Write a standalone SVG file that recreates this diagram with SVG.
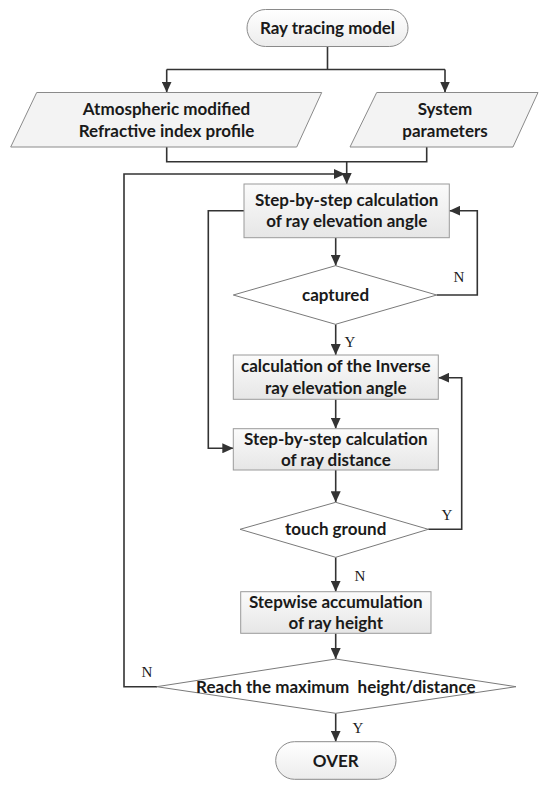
<svg xmlns="http://www.w3.org/2000/svg" width="550" height="790" viewBox="0 0 550 790">
<defs>
<linearGradient id="gBox" x1="0" y1="0" x2="0" y2="1">
<stop offset="0" stop-color="#fbfbfb"/>
<stop offset="1" stop-color="#e6e6e6"/>
</linearGradient>
<linearGradient id="gTerm" x1="0" y1="0" x2="0" y2="1">
<stop offset="0" stop-color="#ffffff"/>
<stop offset="1" stop-color="#ececec"/>
</linearGradient>
<marker id="arr" markerUnits="userSpaceOnUse" markerWidth="12" markerHeight="10" refX="11" refY="5" orient="auto">
<path d="M0,0 L11,5 L0,10 Z" fill="#333"/>
</marker>
</defs>
<style>
.box{fill:url(#gBox);stroke:#9a9a9a;stroke-width:1}
.term{fill:url(#gTerm);stroke:#8a8a8a;stroke-width:1}
.para{fill:#f3f3f3;stroke:#8a8a8a;stroke-width:1}
.dia{fill:#ffffff;stroke:#7a7a7a;stroke-width:1}
.t{font-family:Lato,"Open Sans",sans-serif;font-weight:bold;font-size:17px;fill:#1a1a1a;text-anchor:middle}
.lbl{font-family:"Liberation Serif",serif;font-size:15px;fill:#1a1a1a;text-anchor:middle}
.c{fill:none;stroke:#333;stroke-width:1.6}
.ca{fill:none;stroke:#333;stroke-width:1.6;marker-end:url(#arr)}
</style>
<rect width="550" height="790" fill="#ffffff"/>

<g id="connectors">
<path class="c" d="M327.5,47 V69.5 M166.7,69.5 H445"/>
<path class="ca" d="M166.7,69.5 V92.5"/>
<path class="ca" d="M445,69.5 V92.5"/>
<path class="c" d="M166.7,147 V161.7 H426.7 V147"/>
<path class="ca" d="M346.7,161.7 V184"/>
<path class="ca" d="M157,686.7 H124 V174 H345"/>
<path class="ca" d="M244,210.7 H208.3 V448.3 H233.3"/>
<path class="ca" d="M335.7,237.7 V265.7"/>
<path class="ca" d="M436.7,295 H477.3 V210.7 H449.3"/>
<path class="ca" d="M335.7,324.3 V355"/>
<path class="ca" d="M335.7,399.3 V428.7"/>
<path class="ca" d="M335.7,470 V502.3"/>
<path class="ca" d="M428.3,529.3 H461.7 V377.7 H438.3"/>
<path class="ca" d="M335.7,557.3 V591.7"/>
<path class="ca" d="M335.7,633.3 V659"/>
<path class="ca" d="M335.7,713.3 V741.7"/>
<text class="lbl" x="459" y="282">N</text>
<text class="lbl" x="350" y="347">Y</text>
<text class="lbl" x="447" y="520">Y</text>
<text class="lbl" x="360" y="581">N</text>
<text class="lbl" x="147" y="677">N</text>
<text class="lbl" x="358" y="733">Y</text>
</g>

<g id="start">
<rect class="term" x="247" y="9.5" width="161" height="37" rx="18.5"/>
<text class="t" x="327.5" y="33.5">Ray tracing model</text>
</g>

<g id="atmos">
<polygon class="para" points="36.7,92.5 321.7,92.5 296.7,147 10.7,147"/>
<text class="t" x="166.5" y="115">Atmospheric modified</text>
<text class="t" x="166.5" y="136.5">Refractive index profile</text>
</g>

<g id="system">
<polygon class="para" points="376.7,92.5 538,92.5 513,147 350,147"/>
<text class="t" x="445" y="115">System</text>
<text class="t" x="445" y="136.5">parameters</text>
</g>

<g id="elev">
<rect class="box" x="244" y="184" width="205.3" height="53.7"/>
<text class="t" x="346.7" y="205.5">Step-by-step calculation</text>
<text class="t" x="346.7" y="227">of ray elevation angle</text>
</g>

<g id="captured">
<polygon class="dia" points="335.5,265.7 436.7,295 335.5,324.3 233.3,295"/>
<text class="t" x="335.5" y="300.5">captured</text>
</g>

<g id="inverse">
<rect class="box" x="233.3" y="355" width="205" height="44.3"/>
<text class="t" x="335.8" y="372">calculation of the Inverse</text>
<text class="t" x="335.8" y="393.5">ray elevation angle</text>
</g>

<g id="distance">
<rect class="box" x="233.3" y="428.7" width="205" height="41.3"/>
<text class="t" x="335.8" y="444.5">Step-by-step calculation</text>
<text class="t" x="335.8" y="465.5">of ray distance</text>
</g>

<g id="ground">
<polygon class="dia" points="335.7,502.3 428.3,529.3 335.7,557.3 240,529.3"/>
<text class="t" x="335.7" y="535">touch ground</text>
</g>

<g id="height">
<rect class="box" x="240.7" y="591.7" width="190.3" height="41.6"/>
<text class="t" x="335.8" y="607.5">Stepwise accumulation</text>
<text class="t" x="335.8" y="628.5">of ray height</text>
</g>

<g id="maxcheck">
<polygon class="dia" points="335.7,659 516,686.7 335.7,713.3 156.7,686.7"/>
<text class="t" x="335.8" y="692.7" xml:space="preserve">Reach the maximum  height/distance</text>
</g>

<g id="over">
<rect class="term" x="275.7" y="741.7" width="120.3" height="37.6" rx="18.8"/>
<text class="t" x="335.8" y="766.5">OVER</text>
</g>
</svg>
